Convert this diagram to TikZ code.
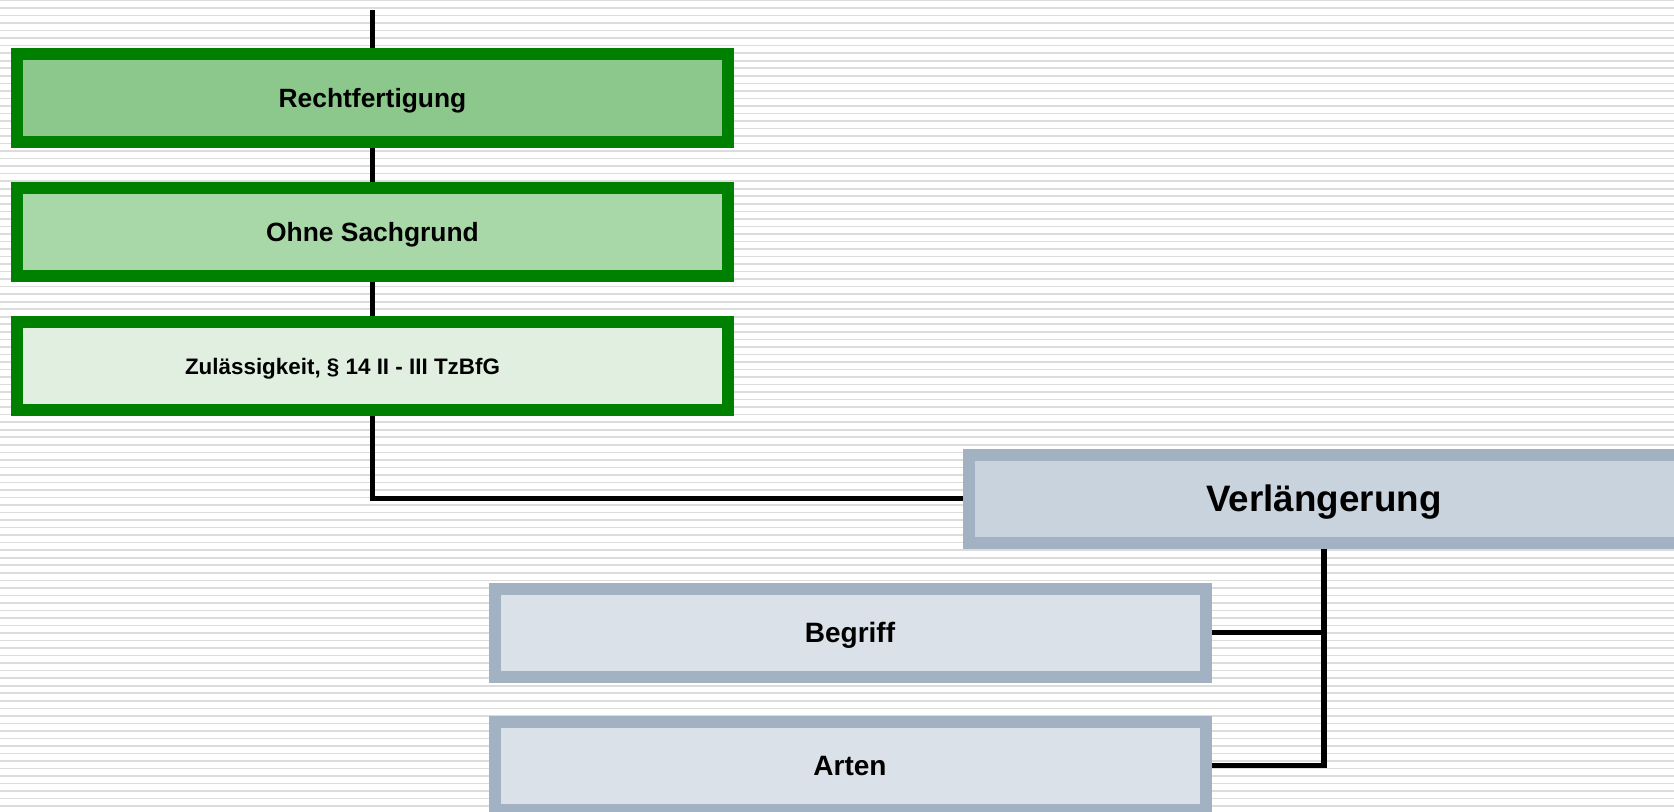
\documentclass[tikz,border=0pt]{standalone}
\usepackage{fontspec}
\setmainfont{Liberation Sans}

\definecolor{darkGreen}{HTML}{008000}
\definecolor{fillGreenA}{HTML}{8CC78C}
\definecolor{fillGreenB}{HTML}{A8D8A8}
\definecolor{fillGreenC}{HTML}{E0EFE0}
\definecolor{steelGrey}{HTML}{A3B2C2}
\definecolor{fillGreyA}{HTML}{C9D3DE}
\definecolor{fillGreyB}{HTML}{DBE1E8}
\definecolor{stripeGrey}{HTML}{DCDCDC}

\begin{document}
\begin{tikzpicture}[
    x=0.75pt, y=-0.75pt,
    box_style/.style={line width=9pt, minimum width=533.25pt, minimum height=66pt, inner sep=0, text=black, text depth=0pt},
    green_box/.style={box_style, draw=darkGreen},
    grey_box/.style={box_style, draw=steelGrey},
    mid_font/.style={font=\bfseries\fontsize{19.8}{22}\selectfont, text height=14.2pt},
    small_font/.style={font=\bfseries\fontsize{16.8}{19}\selectfont, text height=12pt},
    big_font/.style={font=\bfseries\fontsize{27.6}{30}\selectfont, text height=19.8pt},
    sub_font/.style={font=\bfseries\fontsize{21}{24}\selectfont, text height=15pt},
    link_style/.style={line width=4.4pt, black}
]

    % --- Hintergrund ---
    \path[use as bounding box, clip] (0,0) rectangle (1674,811);
    \fill[white] (0,0) rectangle (1674,811);
    \foreach \k in {0,...,108} {
        \draw[stripeGrey, line width=1.2pt] (0,\k*7.53+0.5) -- (1674,\k*7.53+0.5);
    }

    % --- Kasten-Makro ---
    \newcommand{\kasten}[5]{
        \node[#4, fill=#5] (#1) at (#2) {#3};
    }

    % --- linke Spalte (gruen) ---
    \kasten{recht}{372.5,98}{Rechtfertigung}{green_box, mid_font}{fillGreenA}
    \kasten{ohne}{372.5,232}{Ohne Sachgrund}{green_box, mid_font}{fillGreenB}
    \kasten{zul}{372.5,366}{Zulässigkeit, § 14 II - III TzBfG\hspace*{45pt}}{green_box, small_font}{fillGreenC}

    % --- rechte Seite (grau) ---
    \kasten{verl}{1324,498.5}{Verlängerung}{grey_box, big_font}{fillGreyA}
    \kasten{begriff}{850,632.5}{Begriff}{grey_box, sub_font}{fillGreyB}
    \kasten{arten}{850,765.5}{Arten}{grey_box, sub_font}{fillGreyB}

    % --- Verbindungen ---
    \coordinate (top) at (372.5,10);
    \draw[link_style] (top) -- (recht.north);
    \draw[link_style] (recht) -- (ohne);
    \draw[link_style] (ohne) -- (zul);
    \draw[link_style] (zul.south) |- (verl.west);
    \draw[link_style] (verl.south) |- (arten.east);
    \draw[link_style] (begriff.east) -- (begriff.east -| verl.south);

\end{tikzpicture}
\end{document}
